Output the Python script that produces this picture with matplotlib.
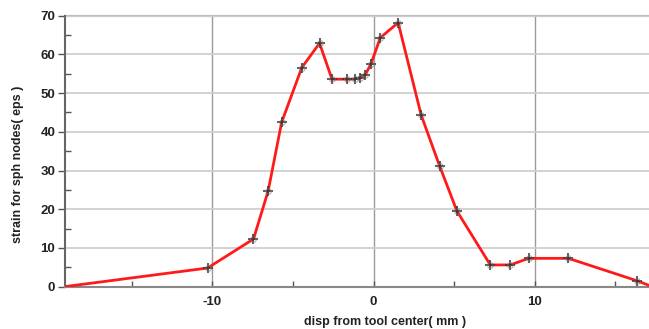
import matplotlib.pyplot as plt
from matplotlib.ticker import MultipleLocator

# displacement from tool center (mm) and strain on sph nodes
disp = [-19.15, -10.3, -7.45, -6.54, -5.7, -4.45, -3.35, -2.58, -1.65, -1.18,
        -0.83, -0.52, -0.16, 0.42, 1.53, 2.96, 4.1, 5.18, 7.25, 8.49,
        9.63, 12.1, 16.36, 17.3]
strain = [0.0, 4.8, 12.3, 24.7, 42.5, 56.6, 62.9, 53.6, 53.6, 53.6,
          54.0, 54.7, 57.5, 64.3, 68.2, 44.3, 31.2, 19.5, 5.6, 5.6,
          7.3, 7.3, 1.5, 0.0]

plt.rcParams['font.family'] = ['Liberation Sans', 'DejaVu Sans']
plt.rcParams['axes.unicode_minus'] = False

fig = plt.figure(figsize=(6.49, 3.29), dpi=100)
ax = fig.add_axes([65 / 649, 1 - 286.6 / 329, (649 - 65) / 649, (286.6 - 15.7) / 329])

ax.plot(disp, strain, color='#ff1a1a', lw=2, zorder=3, clip_on=True)
ax.plot(disp[1:-1], strain[1:-1], ls='none', marker='+', ms=7, mew=1.3,
        color='#333333', alpha=0.85, zorder=4)
ax.plot(disp[1:-1], strain[1:-1], ls='none', marker='o', ms=4,
        mfc='none', mec='#777777', mew=0.8, alpha=0.6, zorder=4)

ax.set_xlim(-19.15, 17.1)
ax.set_ylim(0, 70)

ax.xaxis.set_major_locator(MultipleLocator(10))
ax.xaxis.set_minor_locator(MultipleLocator(5))
ax.yaxis.set_major_locator(MultipleLocator(10))
ax.yaxis.set_minor_locator(MultipleLocator(5))

ax.grid(axis='y', which='major', color='#cfcfcf', lw=1.3, zorder=0)
ax.grid(axis='x', which='major', color='#9a9a9a', lw=1.0, zorder=0)
# top frame line at 70
ax.axhline(70, color='#bdbdbd', lw=1.6, clip_on=False, zorder=1)

ax.tick_params(axis='y', which='major', direction='out', length=5, width=1,
               color='#555555', labelsize=9.5, pad=2)
ax.tick_params(axis='y', which='minor', direction='in', length=4, width=1,
               color='#555555')
ax.tick_params(axis='x', which='major', direction='in', length=4, width=1,
               color='#555555', labelsize=9.5, pad=7)
ax.tick_params(axis='x', which='minor', direction='in', length=4, width=1,
               color='#555555')
for lab in ax.get_xticklabels() + ax.get_yticklabels():
    lab.set_fontweight('bold')
    lab.set_color('#222222')

for side in ['top', 'right']:
    ax.spines[side].set_visible(False)
ax.spines['left'].set_color('#666666')
ax.spines['left'].set_linewidth(1.5)
ax.spines['bottom'].set_color('#888888')
ax.spines['bottom'].set_linewidth(1.5)

ax.set_xlabel('disp from tool center( mm )', fontsize=9, fontweight='bold',
              color='#222222')
ax.set_ylabel('strain for sph nodes( eps )', fontsize=9, fontweight='bold',
              color='#222222')
ax.xaxis.set_label_coords((385 - 65) / 584, -(316 - 286.6) / 270.9)
ax.yaxis.set_label_coords(-(65 - 24) / 584, (286.6 - 164) / 270.9)

fig.savefig('out.png', dpi=100)
